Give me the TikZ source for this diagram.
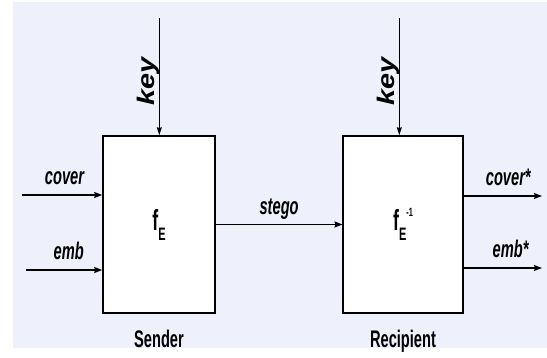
\documentclass[tikz,border=0pt]{standalone}
\usepackage{fontspec}
\setmainfont{Liberation Sans}
\usetikzlibrary{positioning, arrows.meta, calc}
\definecolor{canvas-color}{RGB}{238,240,251}

% the lettering is drawn narrow
\newcommand{\squeeze}[1]{\scalebox{0.61}[1]{#1}}

\begin{document}
\begin{tikzpicture}[x=1pt, y=1pt,
    block/.style={rectangle, draw, fill=white, line width=1.6pt, minimum height=177pt, inner sep=0pt, font=\fontsize{29}{32}\selectfont\bfseries},
    signal/.style={anchor=base, yshift=10pt, inner sep=0pt, font=\fontsize{24}{28}\selectfont\bfseries\itshape},
    party/.style={inner sep=0pt, font=\fontsize{24}{28}\selectfont\bfseries},
    keytag/.style={rotate=90, anchor=base, yshift=4.5pt, inner sep=0pt, font=\fontsize{24}{28}\selectfont\bfseries\itshape},
    arrow/.style={-{Stealth[length=8pt, width=6pt, inset=1pt]}, line width=1.3pt},
    keyarrow/.style={-{Stealth[length=8pt, width=5pt, inset=1pt]}, line width=0.9pt}]

    % canvas
    \useasboundingbox (0,0) rectangle (547,358);
    \fill[canvas-color] (13,10) rectangle (547,356);

    % Sender and recipient blocks
    \node[block, minimum width=112pt] (sender) at (159,133.5)
        {\squeeze{f\raisebox{-10pt}{\fontsize{18}{20}\selectfont E}}};
    \node[block, minimum width=119.5pt] (recip) at (403,133.5)
        {\squeeze{f\raisebox{-10pt}{\fontsize{18}{20}\selectfont E}\raisebox{14pt}{\fontsize{12}{12}\selectfont -1}}};

    % Names under the blocks
    \node[party, below=16pt of sender] (senderName) {\squeeze{Sender}};
    \node[party, below=16pt of recip] (recipName) {\squeeze{Recipient}};

    % free ends of the connectors
    \coordinate (coverIn) at (22,163);
    \coordinate (embIn) at (26,88);
    \coordinate (coverOut) at (542,162);
    \coordinate (embOut) at (542,90);
    \coordinate (keyA) at (159.3,340);
    \coordinate (keyB) at (399.3,340);

    % Arrows
    \draw[arrow] (coverIn) -- node[signal, pos=0.53] {\squeeze{cover}} (coverIn -| sender.west);
    \draw[arrow] (embIn) -- node[signal, pos=0.56] {\squeeze{emb}} (embIn -| sender.west);
    \draw[arrow] (sender.east) -- node[signal] {\squeeze{stego}} (recip.west);
    \draw[arrow] (coverOut -| recip.east) -- node[signal, pos=0.57] {\squeeze{cover*}} (coverOut);
    \draw[arrow] (embOut -| recip.east) -- node[signal, pos=0.6] {\squeeze{emb*}} (embOut);
    \draw[keyarrow] (keyA) -- node[keytag, pos=0.54] {\scalebox{1.2}[1]{key}} (keyA |- sender.north);
    \draw[keyarrow] (keyB) -- node[keytag, pos=0.54] {\scalebox{1.2}[1]{key}} (keyB |- recip.north);
\end{tikzpicture}
\end{document}
